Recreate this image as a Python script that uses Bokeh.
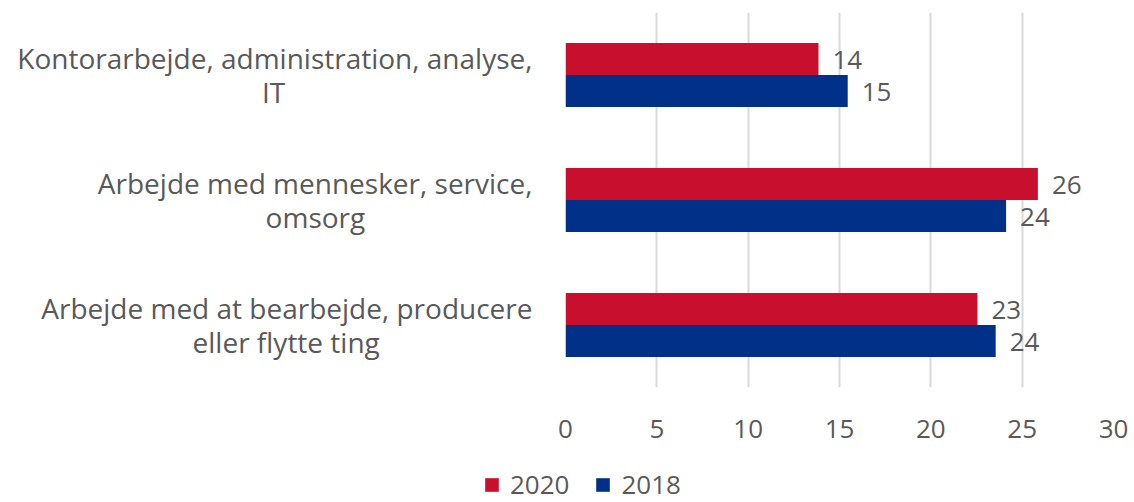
import subprocess
from bokeh.plotting import figure
from bokeh.layouts import column
from bokeh.models import ColumnDataSource, FactorRange, LabelSet, Legend, LegendItem
from bokeh.transform import dodge
from bokeh.core.properties import value
from bokeh.embed import file_html
from bokeh.resources import INLINE

category_lines = [
    ("Kontorarbejde, administration, analyse,", "IT"),
    ("Arbejde med mennesker, service,", "omsorg"),
    ("Arbejde med at bearbejde, producere", "eller flytte ting"),
]
values_2020 = [13.85, 25.86, 22.55]
values_2018 = [15.45, 24.12, 23.55]
series_names = ["2020", "2018"]
x_ticks = [0, 5, 10, 15, 20, 25, 30]

RED = "#C8102E"
BLUE = "#003087"
FONT = "Open Sans"
TXT = "#595959"
CAT_SIZE = 28


def _width_fn(font):
    try:
        from fontTools.ttLib import TTFont
        path = subprocess.run(["fc-match", "-f", "%{file}", font],
                              capture_output=True, text=True).stdout.strip()
        f = TTFont(path)
        cmap = f.getBestCmap()
        hmtx = f["hmtx"]
        upm = f["head"].unitsPerEm

        def w(s):
            return sum(hmtx[cmap.get(ord(c), cmap.get(32))][0] for c in s) / upm
        return w
    except Exception:
        narrow = set("ijlt,.I ")
        wide = set("mwMW")

        def w(s):
            return sum(0.28 if c in narrow else (0.85 if c in wide else 0.55) for c in s)
        return w


text_w = _width_fn(FONT)
NBSP = "\u00a0"


def centered_label(first, second):
    # axis labels are right-aligned; pad the shorter line so it sits centred under the first
    pad = (text_w(first) - text_w(second)) / 2
    n = max(0, round(pad / text_w(NBSP)))
    return first + "\n" + second + NBSP * n


categories = [centered_label(a, b) for a, b in category_lines]

src = ColumnDataSource(dict(
    cat=categories,
    v2020=values_2020,
    v2018=values_2018,
    l2020=[f"{v:.0f}" for v in values_2020],
    l2018=[f"{v:.0f}" for v in values_2018],
))

p = figure(
    width=1134, height=462,
    y_range=FactorRange(*categories[::-1]),
    x_range=(0, 30),
    output_backend="svg", toolbar_location=None,
    min_border_left=565, min_border_right=21, min_border_top=12, min_border_bottom=75,
)
p.frame_align = False
p.y_range.factor_padding = 0
p.y_range.range_padding = 0

bh = 0.256
r1 = p.hbar(y=dodge("cat", bh / 2, range=p.y_range), right="v2020", left=0, height=bh,
            source=src, fill_color=RED, line_color=None)
r2 = p.hbar(y=dodge("cat", -bh / 2, range=p.y_range), right="v2018", left=0, height=bh,
            source=src, fill_color=BLUE, line_color=None)

for col, lab, off in (("v2020", "l2020", bh / 2), ("v2018", "l2018", -bh / 2)):
    ls = LabelSet(x=col, y=dodge("cat", off, range=p.y_range), text=lab, source=src,
                  x_offset=14, y_offset=-1, text_baseline="middle", text_align="left",
                  text_font=value(FONT), text_font_size="26px", text_color=TXT)
    p.add_layout(ls)

p.xaxis.ticker = x_ticks
p.xaxis.axis_line_color = None
p.xaxis.major_tick_line_color = None
p.xaxis.minor_tick_line_color = None
p.xaxis.major_label_text_font = FONT
p.xaxis.major_label_text_font_size = "26px"
p.xaxis.major_label_text_color = TXT
p.xaxis.major_label_standoff = 26

p.yaxis.axis_line_color = None
p.yaxis.major_tick_line_color = None
p.yaxis.major_label_text_font = FONT
p.yaxis.major_label_text_font_size = f"{CAT_SIZE}px"
p.yaxis.major_label_text_color = TXT
p.yaxis.major_label_text_line_height = 0.9
p.yaxis.major_label_standoff = 27

p.ygrid.grid_line_color = None
p.xgrid.grid_line_color = "#D9D9D9"
p.xgrid.grid_line_width = 2
p.outline_line_color = None

# legend strip below the chart; its renderers share the data but lie outside this strip's range
pl = figure(width=1134, height=40, x_range=(-2, -1), y_range=(0, 1),
            x_axis_location=None, y_axis_location=None,
            output_backend="svg", toolbar_location=None,
            min_border=0, outline_line_color=None)
pl.frame_align = False
pl.grid.visible = False
lr1 = pl.hbar(y=0.5, right="v2020", left=0, height=bh, source=src,
              fill_color=RED, line_color=None)
lr2 = pl.hbar(y=0.5, right="v2018", left=0, height=bh, source=src,
              fill_color=BLUE, line_color=None)
legend = Legend(items=[LegendItem(label=series_names[0], renderers=[lr1]),
                       LegendItem(label=series_names[1], renderers=[lr2])],
                orientation="horizontal", location=(483, 0),
                label_text_font=FONT, label_text_font_size="26px", label_text_color=TXT,
                glyph_width=17, glyph_height=17, label_standoff=10, spacing=25,
                padding=0, margin=0, border_line_color=None, background_fill_alpha=0)
pl.add_layout(legend, "center")

layout = column(p, pl, spacing=0)
open("out.html", "w").write(file_html(layout, INLINE))
